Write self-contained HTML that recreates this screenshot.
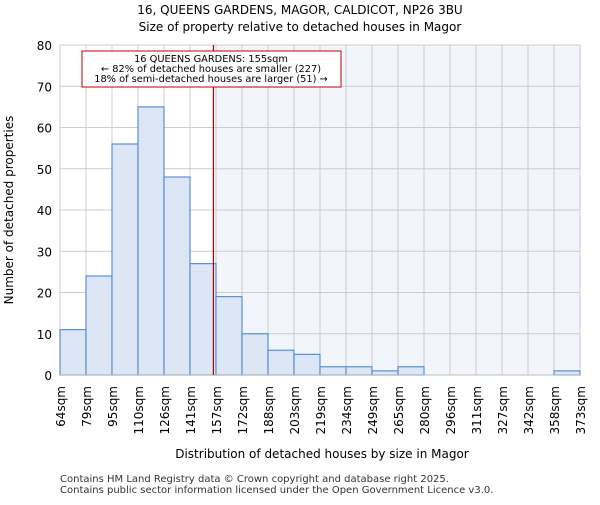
<!DOCTYPE html>
<html><head><meta charset="utf-8"><style>body{margin:0;background:#fff}svg{font-family:"DejaVu Sans","Liberation Sans",sans-serif}</style></head>
<body>
<svg width="600" height="500">
<text x="300" y="14" text-anchor="middle" font-size="12">16, QUEENS GARDENS, MAGOR, CALDICOT, NP26 3BU</text>
<text x="300" y="31" text-anchor="middle" font-size="12">Size of property relative to detached houses in Magor</text>
<g id="plot"></g>
<text x="322" y="458" text-anchor="middle" font-size="12">Distribution of detached houses by size in Magor</text>
<text transform="translate(13,210) rotate(-90)" text-anchor="middle" font-size="12">Number of detached properties</text>
<text x="60" y="482" font-size="10" fill="#333">Contains HM Land Registry data © Crown copyright and database right 2025.</text>
<text x="60" y="493" font-size="10" fill="#333">Contains public sector information licensed under the Open Government Licence v3.0.</text>
</svg>
<script>
const categories=["64sqm","79sqm","95sqm","110sqm","126sqm","141sqm","157sqm","172sqm","188sqm","203sqm","219sqm","234sqm","249sqm","265sqm","280sqm","296sqm","311sqm","327sqm","342sqm","358sqm","373sqm"];
const counts=[11,24,56,65,48,27,19,10,6,5,2,2,1,2,0,0,0,0,0,1];
const yTicks=[0,10,20,30,40,50,60,70,80];
const propertyIndex=5.9;
const NS="http://www.w3.org/2000/svg";
const g=document.getElementById('plot');
const x0=60,x1=580,y0=375,y1=45,yMax=80;
const bw=(x1-x0)/counts.length;
const X=i=>x0+i*bw;
const Y=v=>y0-(v/yMax)*(y0-y1);
function mk(t,a,p){const e=document.createElementNS(NS,t);for(const k in a)e.setAttribute(k,a[k]);(p||g).appendChild(e);return e;}
const px=X(propertyIndex);
let r=mk('rect',{x:px,y:y1,width:x1-px,height:y0-y1,fill:'#f3f5fd'});


yTicks.forEach(v=>{let l=mk('line',{x1:x0,x2:x1,y1:Y(v),y2:Y(v),stroke:'#ccc'});


let t=mk('text',{x:x0-8,y:Y(v)+5,'text-anchor':'end','font-size':12});t.textContent=v;

});
categories.forEach((c,i)=>{let l=mk('line',{x1:X(i),x2:X(i),y1:y1,y2:y0,stroke:'#ccc'});


let t=mk('text',{transform:`translate(${X(i)+5},386) rotate(-90)`,'text-anchor':'end','font-size':12});t.textContent=c;

});
counts.forEach((v,i)=>{if(v<=0)return;let b=mk('rect',{x:X(i),y:Y(v),width:bw,height:y0-Y(v),fill:'#dce6f4',stroke:'#5b8fd6','stroke-width':1.2});

});
let a=mk('line',{x1:x0,x2:x1,y1:y0,y2:y0,stroke:'#bbb'});


let pl=mk('line',{x1:px,x2:px,y1:y1,y2:y0,stroke:'#b00000','stroke-width':1.2});


let ab=mk('rect',{x:82,y:51,width:259,height:36,fill:'#fff',stroke:'#c00000'});


["16 QUEENS GARDENS: 155sqm","← 82% of detached houses are smaller (227)","18% of semi-detached houses are larger (51) →"].forEach((s,i)=>{let t=mk('text',{x:211,y:62+i*10,'text-anchor':'middle','font-size':9.8});t.textContent=s;

});
</script>
</body></html>
